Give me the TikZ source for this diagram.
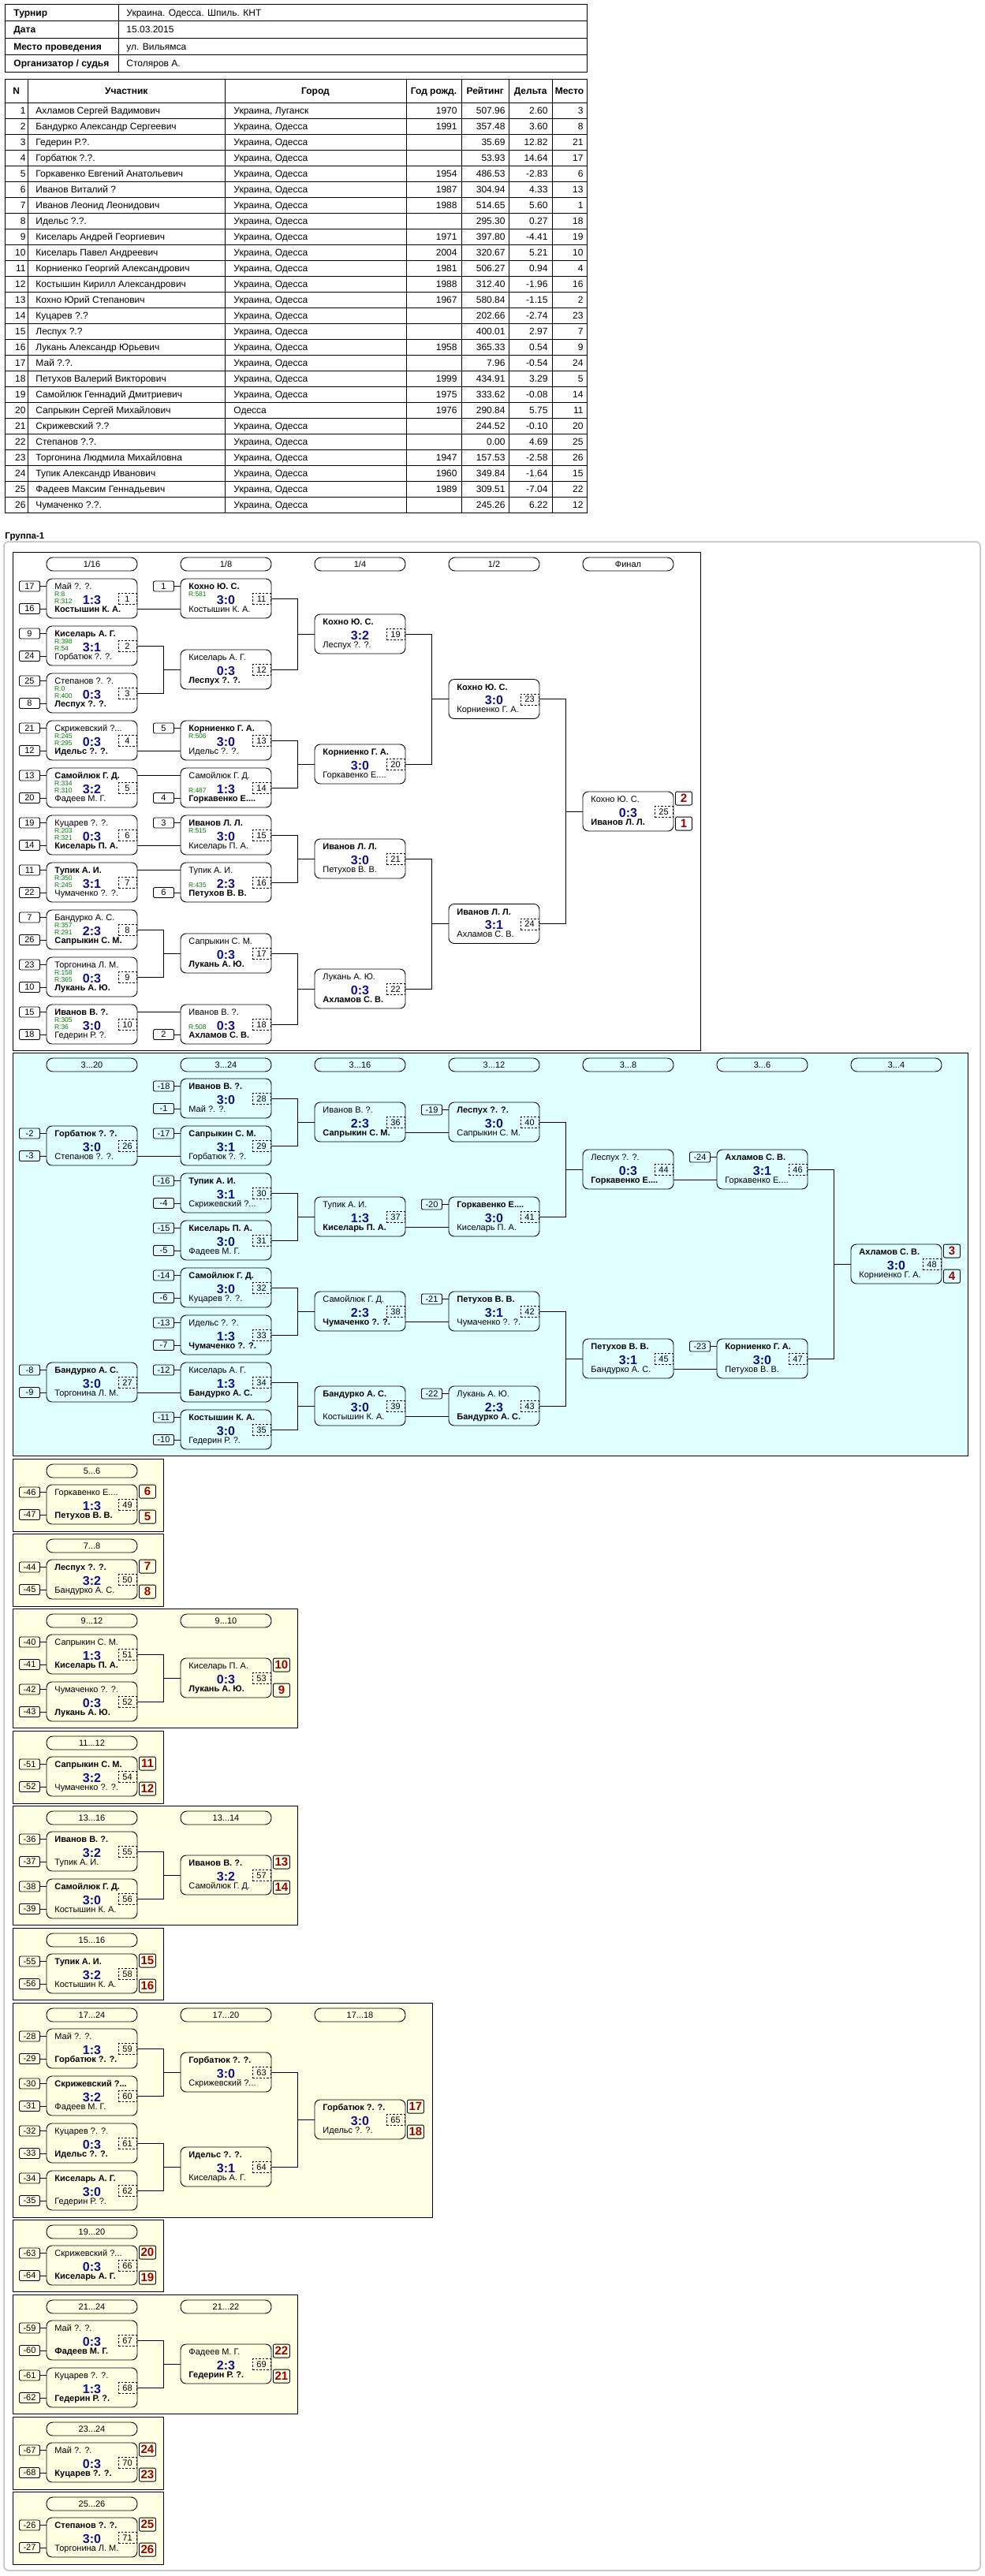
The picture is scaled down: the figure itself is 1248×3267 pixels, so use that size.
\documentclass[tikz,border=0pt]{standalone}
\usepackage{fontspec}
\setmainfont{Liberation Sans}
\definecolor{scorec}{RGB}{16,16,140}
\definecolor{ratec}{RGB}{0,128,0}
\definecolor{placec}{RGB}{153,0,0}
\definecolor{cyanbg}{RGB}{224,255,255}
\definecolor{yelbg}{RGB}{255,255,228}
\newcommand\fsz[1]{\fontsize{#1}{#1}\selectfont}
\tikzset{
 mbox/.style={draw, rounded corners=7pt, minimum width=115pt, minimum height=50pt, inner sep=0pt},
 nm/.style={anchor=base west, inner sep=0pt, font=\fsz{11}},
 sc/.style={anchor=base, inner sep=0pt, font=\fsz{16}\bfseries, text=scorec},
 nb/.style={draw, line width=0.8pt, dash pattern=on 2.5pt off 2pt, minimum width=23pt, minimum height=14pt, inner sep=0pt, font=\fsz{11}},
 rt/.style={anchor=base west, inner sep=0pt, font=\fsz{8.5}, text=ratec},
 seedbox/.style={draw, rounded corners=2pt, minimum width=26pt, minimum height=13pt, inner sep=0pt, font=\fsz{11}},
 plc/.style={draw, rounded corners=2pt, minimum width=21pt, minimum height=17pt, inner sep=0pt, font=\fsz{15}\bfseries, text=placec},
 pill/.style={draw, rounded corners=8pt, minimum width=115pt, minimum height=17pt, inner sep=0pt, font=\fsz{11}},
 tb/.style={inner sep=0pt, font=\fsz{12}},
 tbh/.style={inner sep=0pt, font=\fsz{12}\bfseries, anchor=base},
 secy/.style={draw, fill=yelbg},
}
% match: id, col x, top y, top name, score, bottom name, number
\newcommand\Mt[7]{%
 \node[mbox] (#1) at ({#2+57.5},{#3+25}) {};
 \node[nm] (#1n1) at ({#2+10},{#3+13.5}) {#4};
 \node[nm] (#1n2) at ({#2+10},{#3+42}) {#6};
 \node[sc] (#1s) at ({#2+57.5},{#3+32}) {#5};
 \node[nb] (#1k) at ({#2+102.5},{#3+25.5}) {#7};
 \coordinate (#1t) at ({#2},{#3+9.5});
 \coordinate (#1b) at ({#2},{#3+38});
}
\newcommand\Ra[2]{\node[rt] (#1ra) at ([shift={(10,22.5)}]#1.north west) {R:#2};}
\newcommand\Rb[2]{\node[rt] (#1rb) at ([shift={(10,31.5)}]#1.north west) {R:#2};}
\newcommand\Sd[2]{\node[seedbox] (#1s) at ([xshift=-21.5pt]#1) {#2}; \draw (#1s.east) -- (#1);}
\newcommand\Pl[3]{\node[plc] (#1p1) at ([shift={(12.5,9)}]#1.north east) {#2};
 \node[plc] (#1p2) at ([shift={(12.5,41)}]#1.north east) {#3};}
\newcommand\Mg[3]{\draw (#1.east) -- ++(32.5,0) |- (#3.west); \draw (#2.east) -- ++(32.5,0) |- (#3.west);}
\newcommand\Sl[2]{\draw (#1.east |- #2) -- (#2);}
\newcommand\Hd[4]{\node[pill] (#1) at ({#2+57.5},{#3}) {#4};}
\newcommand\Prow[7]{%
 \node[tb,anchor=base east] (p#1a) at (33,{124.3+20*#1}) {#1};
 \node[tb,anchor=base west] (p#1b) at (45,{124.3+20*#1}) {#2};
 \node[tb,anchor=base west] (p#1c) at (296,{124.3+20*#1}) {#3};
 \node[tb,anchor=base east] (p#1d) at (580,{124.3+20*#1}) {#4};
 \node[tb,anchor=base east] (p#1e) at (641,{124.3+20*#1}) {#5};
 \node[tb,anchor=base east] (p#1f) at (695,{124.3+20*#1}) {#6};
 \node[tb,anchor=base east] (p#1g) at (740,{124.3+20*#1}) {#7};
}
\begin{document}
\begin{tikzpicture}[x=1pt,y=-1pt,line width=0.9pt]
\useasboundingbox (0,0) rectangle (1248,3267);
\fill[white] (0,0) rectangle (1248,3267);
% ---------- header table
\draw (6,5) rectangle (744,91);
\foreach \yy in {26.5,48,69.5} \draw (6,\yy) -- (744,\yy);
\draw (150.5,5) -- (150.5,91);
\node[tb,anchor=base west,font=\fsz{12}\bfseries] (ha1) at (17,20.05) {Турнир};
\node[tb,anchor=base west] (hb1) at (160,20.05) {Украина. Одесса. Шпиль. КНТ};
\node[tb,anchor=base west,font=\fsz{12}\bfseries] (ha2) at (17,41.55) {Дата};
\node[tb,anchor=base west] (hb2) at (160,41.55) {15.03.2015};
\node[tb,anchor=base west,font=\fsz{12}\bfseries] (ha3) at (17,63.05) {Место проведения};
\node[tb,anchor=base west] (hb3) at (160,63.05) {ул. Вильямса};
\node[tb,anchor=base west,font=\fsz{12}\bfseries] (ha4) at (17,84.55) {Организатор / судья};
\node[tb,anchor=base west] (hb4) at (160,84.55) {Столяров А.};
% ---------- players table
\draw (6,100) rectangle (744,650);
\foreach \yy in {130,150,...,630} \draw (6,\yy) -- (744,\yy);
\foreach \xx in {35.6,285,515,585,645.5,700} \draw (\xx,100) -- (\xx,650);
\node[tbh] (th1) at (20.8,119.3) {N};
\node[tbh] (th2) at (160.3,119.3) {Участник};
\node[tbh] (th3) at (400,119.3) {Город};
\node[tbh] (th4) at (550,119.3) {Год рожд.};
\node[tbh] (th5) at (615.2,119.3) {Рейтинг};
\node[tbh] (th6) at (672.7,119.3) {Дельта};
\node[tbh] (th7) at (722,119.3) {Место};
\Prow{1}{Ахламов Сергей Вадимович}{Украина, Луганск}{1970}{507.96}{2.60}{3}
\Prow{2}{Бандурко Александр Сергеевич}{Украина, Одесса}{1991}{357.48}{3.60}{8}
\Prow{3}{Гедерин Р.?.}{Украина, Одесса}{}{35.69}{12.82}{21}
\Prow{4}{Горбатюк ?.?.}{Украина, Одесса}{}{53.93}{14.64}{17}
\Prow{5}{Горкавенко Евгений Анатольевич}{Украина, Одесса}{1954}{486.53}{-2.83}{6}
\Prow{6}{Иванов Виталий ?}{Украина, Одесса}{1987}{304.94}{4.33}{13}
\Prow{7}{Иванов Леонид Леонидович}{Украина, Одесса}{1988}{514.65}{5.60}{1}
\Prow{8}{Идельс ?.?.}{Украина, Одесса}{}{295.30}{0.27}{18}
\Prow{9}{Киселарь Андрей Георгиевич}{Украина, Одесса}{1971}{397.80}{-4.41}{19}
\Prow{10}{Киселарь Павел Андреевич}{Украина, Одесса}{2004}{320.67}{5.21}{10}
\Prow{11}{Корниенко Георгий Александрович}{Украина, Одесса}{1981}{506.27}{0.94}{4}
\Prow{12}{Костышин Кирилл Александрович}{Украина, Одесса}{1988}{312.40}{-1.96}{16}
\Prow{13}{Кохно Юрий Степанович}{Украина, Одесса}{1967}{580.84}{-1.15}{2}
\Prow{14}{Куцарев ?.?}{Украина, Одесса}{}{202.66}{-2.74}{23}
\Prow{15}{Леспух ?.?}{Украина, Одесса}{}{400.01}{2.97}{7}
\Prow{16}{Лукань Александр Юрьевич}{Украина, Одесса}{1958}{365.33}{0.54}{9}
\Prow{17}{Май ?.?.}{Украина, Одесса}{}{7.96}{-0.54}{24}
\Prow{18}{Петухов Валерий Викторович}{Украина, Одесса}{1999}{434.91}{3.29}{5}
\Prow{19}{Самойлюк Геннадий Дмитриевич}{Украина, Одесса}{1975}{333.62}{-0.08}{14}
\Prow{20}{Сапрыкин Сергей Михайлович}{Одесса}{1976}{290.84}{5.75}{11}
\Prow{21}{Скрижевский ?.?}{Украина, Одесса}{}{244.52}{-0.10}{20}
\Prow{22}{Степанов ?.?.}{Украина, Одесса}{}{0.00}{4.69}{25}
\Prow{23}{Торгонина Людмила Михайловна}{Украина, Одесса}{1947}{157.53}{-2.58}{26}
\Prow{24}{Тупик Александр Иванович}{Украина, Одесса}{1960}{349.84}{-1.64}{15}
\Prow{25}{Фадеев Максим Геннадьевич}{Украина, Одесса}{1989}{309.51}{-7.04}{22}
\Prow{26}{Чумаченко ?.?.}{Украина, Одесса}{}{245.26}{6.22}{12}
% ---------- group
\node[anchor=base west,inner sep=0pt,font=\fsz{11.5}\bfseries] (grp) at (6,683) {Группа-1};
\draw[gray!50, line width=1.5pt, rounded corners=6pt] (5,687) rectangle (1243,3260);
% ---------- frames
\draw (16.5,700) rectangle (888,1332);
\draw[fill=cyanbg] (16.5,1335) rectangle (1227,1846);
\draw[secy] (16.5,1850) rectangle (207,1942);
\draw[secy] (16.5,1945) rectangle (207,2037);
\draw[secy] (16.5,2040) rectangle (377,2191);
\draw[secy] (16.5,2195) rectangle (207,2287);
\draw[secy] (16.5,2290) rectangle (377,2441);
\draw[secy] (16.5,2445) rectangle (207,2536);
\draw[secy] (16.5,2540) rectangle (548,2812);
\draw[secy] (16.5,2815) rectangle (207,2906);
\draw[secy] (16.5,2910) rectangle (377,3061);
\draw[secy] (16.5,3065) rectangle (207,3157);
\draw[secy] (16.5,3160) rectangle (207,3252);
% ---------- main bracket
\Hd{h1}{59}{715.5}{1/16}\Hd{h2}{229}{715.5}{1/8}\Hd{h3}{399}{715.5}{1/4}\Hd{h4}{569}{715.5}{1/2}\Hd{h5}{739}{715.5}{Финал}
\Mt{m1}{59}{734}{Май ?. ?.}{1:3}{\textbf{Костышин К. А.}}{1}\Ra{m1}{8}\Rb{m1}{312}\Sd{m1t}{17}\Sd{m1b}{16}
\Mt{m2}{59}{794}{\textbf{Киселарь А. Г.}}{3:1}{Горбатюк ?. ?.}{2}\Ra{m2}{398}\Rb{m2}{54}\Sd{m2t}{9}\Sd{m2b}{24}
\Mt{m3}{59}{854}{Степанов ?. ?.}{0:3}{\textbf{Леспух ?. ?.}}{3}\Ra{m3}{0}\Rb{m3}{400}\Sd{m3t}{25}\Sd{m3b}{8}
\Mt{m4}{59}{914}{Скрижевский ?...}{0:3}{\textbf{Идельс ?. ?.}}{4}\Ra{m4}{245}\Rb{m4}{295}\Sd{m4t}{21}\Sd{m4b}{12}
\Mt{m5}{59}{974}{\textbf{Самойлюк Г. Д.}}{3:2}{Фадеев М. Г.}{5}\Ra{m5}{334}\Rb{m5}{310}\Sd{m5t}{13}\Sd{m5b}{20}
\Mt{m6}{59}{1034}{Куцарев ?. ?.}{0:3}{\textbf{Киселарь П. А.}}{6}\Ra{m6}{203}\Rb{m6}{321}\Sd{m6t}{19}\Sd{m6b}{14}
\Mt{m7}{59}{1094}{\textbf{Тупик А. И.}}{3:1}{Чумаченко ?. ?.}{7}\Ra{m7}{350}\Rb{m7}{245}\Sd{m7t}{11}\Sd{m7b}{22}
\Mt{m8}{59}{1154}{Бандурко А. С.}{2:3}{\textbf{Сапрыкин С. М.}}{8}\Ra{m8}{357}\Rb{m8}{291}\Sd{m8t}{7}\Sd{m8b}{26}
\Mt{m9}{59}{1214}{Торгонина Л. М.}{0:3}{\textbf{Лукань А. Ю.}}{9}\Ra{m9}{158}\Rb{m9}{365}\Sd{m9t}{23}\Sd{m9b}{10}
\Mt{m10}{59}{1274}{\textbf{Иванов В. ?.}}{3:0}{Гедерин Р. ?.}{10}\Ra{m10}{305}\Rb{m10}{36}\Sd{m10t}{15}\Sd{m10b}{18}
\Mt{m11}{229}{734}{\textbf{Кохно Ю. С.}}{3:0}{Костышин К. А.}{11}\Ra{m11}{581}\Sd{m11t}{1}
\Mt{m12}{229}{824}{Киселарь А. Г.}{0:3}{\textbf{Леспух ?. ?.}}{12}
\Mt{m13}{229}{914}{\textbf{Корниенко Г. А.}}{3:0}{Идельс ?. ?.}{13}\Ra{m13}{506}\Sd{m13t}{5}
\Mt{m14}{229}{974}{Самойлюк Г. Д.}{1:3}{\textbf{Горкавенко Е....}}{14}\Rb{m14}{487}\Sd{m14b}{4}
\Mt{m15}{229}{1034}{\textbf{Иванов Л. Л.}}{3:0}{Киселарь П. А.}{15}\Ra{m15}{515}\Sd{m15t}{3}
\Mt{m16}{229}{1094}{Тупик А. И.}{2:3}{\textbf{Петухов В. В.}}{16}\Rb{m16}{435}\Sd{m16b}{6}
\Mt{m17}{229}{1184}{Сапрыкин С. М.}{0:3}{\textbf{Лукань А. Ю.}}{17}
\Mt{m18}{229}{1274}{Иванов В. ?.}{0:3}{\textbf{Ахламов С. В.}}{18}\Rb{m18}{508}\Sd{m18b}{2}
\Sl{m1}{m11b}\Mg{m2}{m3}{m12}\Sl{m4}{m13b}\Sl{m5}{m14t}\Sl{m6}{m15b}\Sl{m7}{m16t}\Mg{m8}{m9}{m17}\Sl{m10}{m18t}
\Mt{m19}{399}{779}{\textbf{Кохно Ю. С.}}{3:2}{Леспух ?. ?.}{19}
\Mt{m20}{399}{944}{\textbf{Корниенко Г. А.}}{3:0}{Горкавенко Е....}{20}
\Mt{m21}{399}{1064}{\textbf{Иванов Л. Л.}}{3:0}{Петухов В. В.}{21}
\Mt{m22}{399}{1229}{Лукань А. Ю.}{0:3}{\textbf{Ахламов С. В.}}{22}
\Mg{m11}{m12}{m19}\Mg{m13}{m14}{m20}\Mg{m15}{m16}{m21}\Mg{m17}{m18}{m22}
\Mt{m23}{569}{861.5}{\textbf{Кохно Ю. С.}}{3:0}{Корниенко Г. А.}{23}
\Mt{m24}{569}{1146.5}{\textbf{Иванов Л. Л.}}{3:1}{Ахламов С. В.}{24}
\Mg{m19}{m20}{m23}\Mg{m21}{m22}{m24}
\Mt{m25}{739}{1004}{Кохно Ю. С.}{0:3}{\textbf{Иванов Л. Л.}}{25}\Pl{m25}{2}{1}
\Mg{m23}{m24}{m25}
% ---------- losers bracket
\Hd{g1}{59}{1350.5}{3...20}\Hd{g2}{229}{1350.5}{3...24}\Hd{g3}{399}{1350.5}{3...16}\Hd{g4}{569}{1350.5}{3...12}
\Hd{g5}{739}{1350.5}{3...8}\Hd{g6}{909}{1350.5}{3...6}\Hd{g7}{1079}{1350.5}{3...4}
\Mt{m26}{59}{1428}{\textbf{Горбатюк ?. ?.}}{3:0}{Степанов ?. ?.}{26}\Sd{m26t}{-2}\Sd{m26b}{-3}
\Mt{m27}{59}{1728}{\textbf{Бандурко А. С.}}{3:0}{Торгонина Л. М.}{27}\Sd{m27t}{-8}\Sd{m27b}{-9}
\Mt{m28}{229}{1368}{\textbf{Иванов В. ?.}}{3:0}{Май ?. ?.}{28}\Sd{m28t}{-18}\Sd{m28b}{-1}
\Mt{m29}{229}{1428}{\textbf{Сапрыкин С. М.}}{3:1}{Горбатюк ?. ?.}{29}\Sd{m29t}{-17}
\Mt{m30}{229}{1488}{\textbf{Тупик А. И.}}{3:1}{Скрижевский ?...}{30}\Sd{m30t}{-16}\Sd{m30b}{-4}
\Mt{m31}{229}{1548}{\textbf{Киселарь П. А.}}{3:0}{Фадеев М. Г.}{31}\Sd{m31t}{-15}\Sd{m31b}{-5}
\Mt{m32}{229}{1608}{\textbf{Самойлюк Г. Д.}}{3:0}{Куцарев ?. ?.}{32}\Sd{m32t}{-14}\Sd{m32b}{-6}
\Mt{m33}{229}{1668}{Идельс ?. ?.}{1:3}{\textbf{Чумаченко ?. ?.}}{33}\Sd{m33t}{-13}\Sd{m33b}{-7}
\Mt{m34}{229}{1728}{Киселарь А. Г.}{1:3}{\textbf{Бандурко А. С.}}{34}\Sd{m34t}{-12}
\Mt{m35}{229}{1788}{\textbf{Костышин К. А.}}{3:0}{Гедерин Р. ?.}{35}\Sd{m35t}{-11}\Sd{m35b}{-10}
\Sl{m26}{m29b}\Sl{m27}{m34b}
\Mt{m36}{399}{1398}{Иванов В. ?.}{2:3}{\textbf{Сапрыкин С. М.}}{36}
\Mt{m37}{399}{1518}{Тупик А. И.}{1:3}{\textbf{Киселарь П. А.}}{37}
\Mt{m38}{399}{1638}{Самойлюк Г. Д.}{2:3}{\textbf{Чумаченко ?. ?.}}{38}
\Mt{m39}{399}{1758}{\textbf{Бандурко А. С.}}{3:0}{Костышин К. А.}{39}
\Mg{m28}{m29}{m36}\Mg{m30}{m31}{m37}\Mg{m32}{m33}{m38}\Mg{m34}{m35}{m39}
\Mt{m40}{569}{1398}{\textbf{Леспух ?. ?.}}{3:0}{Сапрыкин С. М.}{40}\Sd{m40t}{-19}
\Mt{m41}{569}{1518}{\textbf{Горкавенко Е....}}{3:0}{Киселарь П. А.}{41}\Sd{m41t}{-20}
\Mt{m42}{569}{1638}{\textbf{Петухов В. В.}}{3:1}{Чумаченко ?. ?.}{42}\Sd{m42t}{-21}
\Mt{m43}{569}{1758}{Лукань А. Ю.}{2:3}{\textbf{Бандурко А. С.}}{43}\Sd{m43t}{-22}
\Sl{m36}{m40b}\Sl{m37}{m41b}\Sl{m38}{m42b}\Sl{m39}{m43b}
\Mt{m44}{739}{1458}{Леспух ?. ?.}{0:3}{\textbf{Горкавенко Е....}}{44}
\Mt{m45}{739}{1698}{\textbf{Петухов В. В.}}{3:1}{Бандурко А. С.}{45}
\Mg{m40}{m41}{m44}\Mg{m42}{m43}{m45}
\Mt{m46}{909}{1458}{\textbf{Ахламов С. В.}}{3:1}{Горкавенко Е....}{46}\Sd{m46t}{-24}
\Mt{m47}{909}{1698}{\textbf{Корниенко Г. А.}}{3:0}{Петухов В. В.}{47}\Sd{m47t}{-23}
\Sl{m44}{m46b}\Sl{m45}{m47b}
\Mt{m48}{1079}{1578}{\textbf{Ахламов С. В.}}{3:0}{Корниенко Г. А.}{48}\Pl{m48}{3}{4}
\Mg{m46}{m47}{m48}
% ---------- 5...6
\Hd{k1}{59}{1865.5}{5...6}
\Mt{m49}{59}{1883}{Горкавенко Е....}{1:3}{\textbf{Петухов В. В.}}{49}\Sd{m49t}{-46}\Sd{m49b}{-47}\Pl{m49}{6}{5}
% ---------- 7...8
\Hd{k2}{59}{1960.5}{7...8}
\Mt{m50}{59}{1978}{\textbf{Леспух ?. ?.}}{3:2}{Бандурко А. С.}{50}\Sd{m50t}{-44}\Sd{m50b}{-45}\Pl{m50}{7}{8}
% ---------- 9...12
\Hd{k3}{59}{2055.5}{9...12}\Hd{k4}{229}{2055.5}{9...10}
\Mt{m51}{59}{2073}{Сапрыкин С. М.}{1:3}{\textbf{Киселарь П. А.}}{51}\Sd{m51t}{-40}\Sd{m51b}{-41}
\Mt{m52}{59}{2133}{Чумаченко ?. ?.}{0:3}{\textbf{Лукань А. Ю.}}{52}\Sd{m52t}{-42}\Sd{m52b}{-43}
\Mt{m53}{229}{2103}{Киселарь П. А.}{0:3}{\textbf{Лукань А. Ю.}}{53}\Pl{m53}{10}{9}
\Mg{m51}{m52}{m53}
% ---------- 11...12
\Hd{k5}{59}{2210.5}{11...12}
\Mt{m54}{59}{2228}{\textbf{Сапрыкин С. М.}}{3:2}{Чумаченко ?. ?.}{54}\Sd{m54t}{-51}\Sd{m54b}{-52}\Pl{m54}{11}{12}
% ---------- 13...16
\Hd{k6}{59}{2305.5}{13...16}\Hd{k7}{229}{2305.5}{13...14}
\Mt{m55}{59}{2323}{\textbf{Иванов В. ?.}}{3:2}{Тупик А. И.}{55}\Sd{m55t}{-36}\Sd{m55b}{-37}
\Mt{m56}{59}{2383}{\textbf{Самойлюк Г. Д.}}{3:0}{Костышин К. А.}{56}\Sd{m56t}{-38}\Sd{m56b}{-39}
\Mt{m57}{229}{2353}{\textbf{Иванов В. ?.}}{3:2}{Самойлюк Г. Д.}{57}\Pl{m57}{13}{14}
\Mg{m55}{m56}{m57}
% ---------- 15...16
\Hd{k8}{59}{2460.5}{15...16}
\Mt{m58}{59}{2478}{\textbf{Тупик А. И.}}{3:2}{Костышин К. А.}{58}\Sd{m58t}{-55}\Sd{m58b}{-56}\Pl{m58}{15}{16}
% ---------- 17...24
\Hd{k9}{59}{2555.5}{17...24}\Hd{k10}{229}{2555.5}{17...20}\Hd{k11}{399}{2555.5}{17...18}
\Mt{m59}{59}{2573}{Май ?. ?.}{1:3}{\textbf{Горбатюк ?. ?.}}{59}\Sd{m59t}{-28}\Sd{m59b}{-29}
\Mt{m60}{59}{2633}{\textbf{Скрижевский ?...}}{3:2}{Фадеев М. Г.}{60}\Sd{m60t}{-30}\Sd{m60b}{-31}
\Mt{m61}{59}{2693}{Куцарев ?. ?.}{0:3}{\textbf{Идельс ?. ?.}}{61}\Sd{m61t}{-32}\Sd{m61b}{-33}
\Mt{m62}{59}{2753}{\textbf{Киселарь А. Г.}}{3:0}{Гедерин Р. ?.}{62}\Sd{m62t}{-34}\Sd{m62b}{-35}
\Mt{m63}{229}{2603}{\textbf{Горбатюк ?. ?.}}{3:0}{Скрижевский ?...}{63}
\Mt{m64}{229}{2723}{\textbf{Идельс ?. ?.}}{3:1}{Киселарь А. Г.}{64}
\Mg{m59}{m60}{m63}\Mg{m61}{m62}{m64}
\Mt{m65}{399}{2663}{\textbf{Горбатюк ?. ?.}}{3:0}{Идельс ?. ?.}{65}\Pl{m65}{17}{18}
\Mg{m63}{m64}{m65}
% ---------- 19...20
\Hd{k12}{59}{2830.5}{19...20}
\Mt{m66}{59}{2848}{Скрижевский ?...}{0:3}{\textbf{Киселарь А. Г.}}{66}\Sd{m66t}{-63}\Sd{m66b}{-64}\Pl{m66}{20}{19}
% ---------- 21...24
\Hd{k13}{59}{2925.5}{21...24}\Hd{k14}{229}{2925.5}{21...22}
\Mt{m67}{59}{2943}{Май ?. ?.}{0:3}{\textbf{Фадеев М. Г.}}{67}\Sd{m67t}{-59}\Sd{m67b}{-60}
\Mt{m68}{59}{3003}{Куцарев ?. ?.}{1:3}{\textbf{Гедерин Р. ?.}}{68}\Sd{m68t}{-61}\Sd{m68b}{-62}
\Mt{m69}{229}{2973}{Фадеев М. Г.}{2:3}{\textbf{Гедерин Р. ?.}}{69}\Pl{m69}{22}{21}
\Mg{m67}{m68}{m69}
% ---------- 23...24
\Hd{k15}{59}{3080.5}{23...24}
\Mt{m70}{59}{3098}{Май ?. ?.}{0:3}{\textbf{Куцарев ?. ?.}}{70}\Sd{m70t}{-67}\Sd{m70b}{-68}\Pl{m70}{24}{23}
% ---------- 25...26
\Hd{k16}{59}{3175.5}{25...26}
\Mt{m71}{59}{3193}{\textbf{Степанов ?. ?.}}{3:0}{Торгонина Л. М.}{71}\Sd{m71t}{-26}\Sd{m71b}{-27}\Pl{m71}{25}{26}
\end{tikzpicture}
\end{document}
